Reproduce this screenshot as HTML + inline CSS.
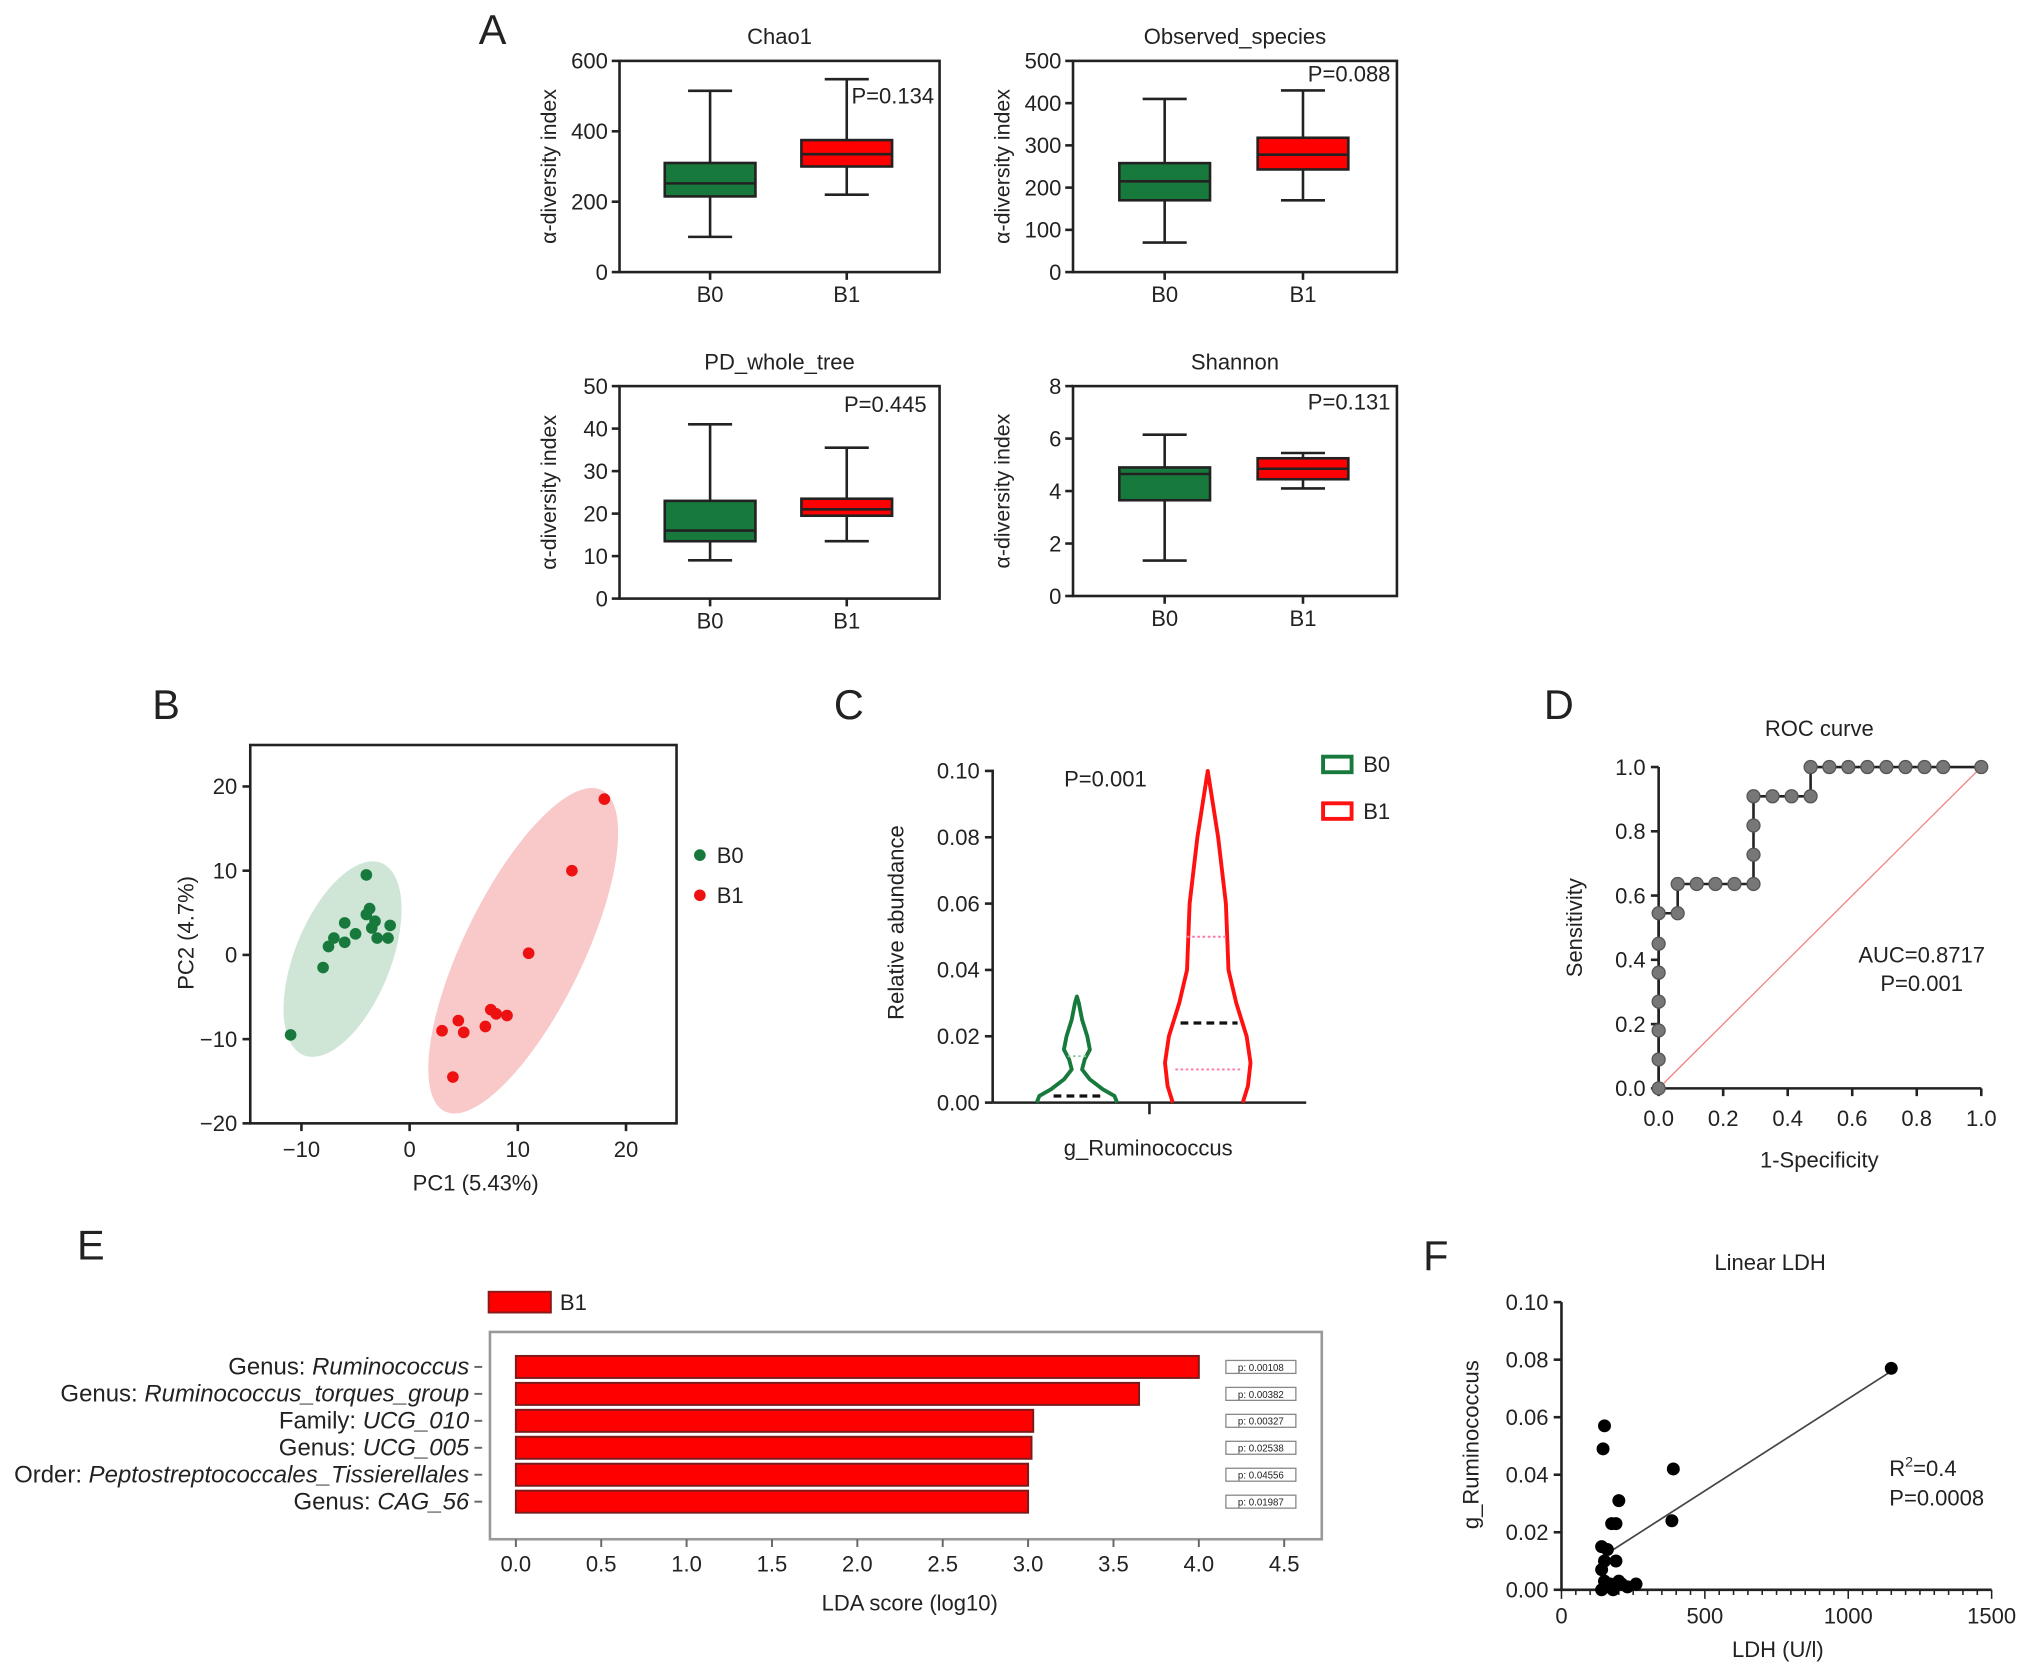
<!DOCTYPE html>
<html><head><meta charset="utf-8"><style>
html,body{margin:0;padding:0;background:#fff}
svg{display:block}
text{font-family:"Liberation Sans",sans-serif;fill:#222}
</style></head><body>
<svg id="s" width="2032" height="1674" viewBox="0 0 1568 1292" xmlns="http://www.w3.org/2000/svg">
<g id="g"></g>
</svg>
<script>
// ---- Panel A data ----
const alphaTitles=["Chao1","Observed_species","PD_whole_tree","Shannon"];
const alphaP=["P=0.134","P=0.088","P=0.445","P=0.131"];
const alphaMax=[600,500,50,8];
const alphaTicks=[[0,200,400,600],[0,100,200,300,400,500],[0,10,20,30,40,50],[0,2,4,6,8]];
// [min,q1,median,q3,max]
const boxB0=[[100,215,252,310,515],[70,170,215,258,410],[9,13.5,16,23,41],[1.35,3.65,4.65,4.9,6.15]];
const boxB1=[[220,300,335,375,548],[170,243,278,318,430],[13.5,19.5,21,23.5,35.5],[4.1,4.45,4.85,5.25,5.45]];
// ---- Panel B data ----
const pcaB0x=[-11,-8,-7.5,-7,-6,-6,-5,-4,-4,-3.7,-3.5,-3.2,-3,-2,-1.8];
const pcaB0y=[-9.5,-1.5,1,2,1.5,3.8,2.5,9.5,4.8,5.5,3.2,4,2,2,3.5];
const pcaB1x=[3,4,4.5,5,7,7.5,8,9,11,15,18];
const pcaB1y=[-9,-14.5,-7.8,-9.2,-8.5,-6.5,-7,-7.2,0.2,10,18.5];
const pcaXTicks=[-10,0,10,20];
const pcaYTicks=[-20,-10,0,10,20];
// ---- Panel C data ----
const violinB0y=[0,0.002,0.004,0.007,0.01,0.013,0.016,0.02,0.025,0.03,0.032];
const violinB0w=[0.031,0.029,0.02,0.01,0.004,0.006,0.01,0.008,0.004,0.0015,0];
const violinB1y=[0,0.005,0.012,0.02,0.03,0.04,0.05,0.06,0.07,0.08,0.09,0.1];
const violinB1w=[0.027,0.031,0.033,0.03,0.022,0.016,0.015,0.014,0.011,0.008,0.004,0];
const violinStats=[[0.002,0.014],[0.024,0.01,0.05]];
const violinYTicks=[0,0.02,0.04,0.06,0.08,0.10];
// ---- Panel D data ----
const rocFpr=[0,0,0,0,0,0,0,0.059,0.059,0.118,0.176,0.235,0.294,0.294,0.294,0.294,0.353,0.412,0.471,0.471,0.529,0.588,0.647,0.706,0.765,0.824,0.882,1];
const rocTpr=[0,0.09,0.18,0.27,0.36,0.45,0.545,0.545,0.636,0.636,0.636,0.636,0.636,0.727,0.818,0.909,0.909,0.909,0.909,1,1,1,1,1,1,1,1,1];
const rocTicks=[0,0.2,0.4,0.6,0.8,1.0];
// ---- Panel E data ----
const ldaLabels=[["Genus: ","Ruminococcus"],["Genus: ","Ruminococcus_torques_group"],["Family: ","UCG_010"],["Genus: ","UCG_005"],["Order: ","Peptostreptococcales_Tissierellales"],["Genus: ","CAG_56"]];
const ldaScores=[4.0,3.65,3.03,3.02,3.0,3.0];
const ldaP=["p: 0.00108","p: 0.00382","p: 0.00327","p: 0.02538","p: 0.04556","p: 0.01987"];
const ldaTicks=[0,0.5,1,1.5,2,2.5,3,3.5,4,4.5];
// ---- Panel F data ----
const ldhX=[1150,150,145,390,200,385,175,190,140,160,150,190,140,150,170,200,210,260,140,180,230,165];
const ldhY=[0.077,0.057,0.049,0.042,0.031,0.024,0.023,0.023,0.015,0.014,0.01,0.01,0.007,0.003,0.002,0.003,0.002,0.002,0,0,0.001,0.001];
const ldhFit=[[150,0.012],[1150,0.076]];
const ldhXTicks=[0,500,1000,1500];
const ldhYTicks=[0,0.02,0.04,0.06,0.08,0.10];

const G=document.getElementById('g');
const NS="http://www.w3.org/2000/svg";
function mk(tag,at,parent){const e=document.createElementNS(NS,tag);for(const k in at)e.setAttribute(k,at[k]);(parent||G).appendChild(e);return e;}
function tx(x,y,s,size,anchor,extra){const e=mk('text',Object.assign({x:x,y:y,'font-size':size,'text-anchor':anchor||'middle'},extra||{}));e.textContent=s;return e;}
function line(x1,y1,x2,y2,st,w,extra){return mk('line',Object.assign({x1,y1,x2,y2,stroke:st||'#222','stroke-width':w||2},extra||{}));}
const lin=(d0,d1,r0,r1)=>v=>r0+(v-d0)/(d1-d0)*(r1-r0);

// Panel letters
[["A",380,34],["B",128,555],["C",655,555],["D",1203,555],["E",70,972],["F",1108,980]].forEach(l=>{const t=tx(l[1],l[2],l[0],32,'middle');});

// Panel A
const aBoxes=[[478,725,47,210],[828,1078,47,210],[478,725,298,462],[828,1078,298,460]];
const aPpos=[[657,80,'start'],[1073,63,'end'],[715,318,'end'],[1073,316,'end']];
for(let i=0;i<4;i++){
  const [x0,x1,y0,y1]=aBoxes[i];
  const y=lin(0,alphaMax[i],y1,y0);
  const xs=[x0+(x1-x0)*0.283,x0+(x1-x0)*0.71];
  const fr=mk('rect',{x:x0,y:y0,width:x1-x0,height:y1-y0,fill:'none',stroke:'#222','stroke-width':2});
  
  const t=tx((x0+x1)/2,y0-13,alphaTitles[i],17);
  alphaTicks[i].forEach(v=>{line(x0-6,y(v),x0,y(v));tx(x0-9,y(v)+6,String(v),17,'end');});
  const yt=tx(0,0,'α-diversity index',16.5,'middle',{transform:`translate(${x0-49},${(y0+y1)/2}) rotate(-90)`});
  
  ['B0','B1'].forEach((n,j)=>{line(xs[j],y1,xs[j],y1+6);tx(xs[j],y1+23,n,17);});
  [[boxB0[i],'#177a3c',0],[boxB1[i],'#ff0000',1]].forEach(([b,c,j])=>{
    const cx=xs[j],hw=35,cw=17;
    line(cx,y(b[0]),cx,y(b[4]));
    line(cx-cw,y(b[0]),cx+cw,y(b[0]));line(cx-cw,y(b[4]),cx+cw,y(b[4]));
    const r=mk('rect',{x:cx-hw,y:y(b[3]),width:2*hw,height:y(b[1])-y(b[3]),fill:c,stroke:'#222','stroke-width':2});
    
    line(cx-hw,y(b[2]),cx+hw,y(b[2]));
  });
  tx(aPpos[i][0],aPpos[i][1],alphaP[i],17,aPpos[i][2]);
}

// Panel B
{
const x=lin(0,10,316,399.5),y=lin(0,10,737,672);
mk('ellipse',{cx:x(-6.2),cy:y(-0.5),rx:37,ry:80,fill:'#cfe5d6',transform:`rotate(22 ${x(-6.2)} ${y(-0.5)})`});
mk('ellipse',{cx:x(10.5),cy:y(0.5),rx:46,ry:138,fill:'#f9c9c9',transform:`rotate(26 ${x(10.5)} ${y(0.5)})`});
const fr=mk('rect',{x:193,y:575,width:329,height:292,fill:'none',stroke:'#222','stroke-width':2});

pcaXTicks.forEach(v=>{line(x(v),867,x(v),873);tx(x(v),893,v<0?'−'+(-v):String(v),17);});
pcaYTicks.forEach(v=>{line(187,y(v),193,y(v));tx(183,y(v)+6,v<0?'−'+(-v):String(v),17,'end');});
pcaB0x.forEach((v,i)=>{const c=mk('circle',{cx:x(v),cy:y(pcaB0y[i]),r:4.5,fill:'#177a3c'});});
pcaB1x.forEach((v,i)=>{const c=mk('circle',{cx:x(v),cy:y(pcaB1y[i]),r:4.5,fill:'#ee1111'});});
tx(367,919,'PC1 (5.43%)',17);
tx(0,0,'PC2 (4.7%)',17,'middle',{transform:'translate(149,720) rotate(-90)'});
mk('circle',{cx:540,cy:660,r:4.5,fill:'#177a3c'});tx(553,666,'B0',17,'start');
mk('circle',{cx:540,cy:691,r:4.5,fill:'#ee1111'});tx(553,697,'B1',17,'start');
}

// Panel C
{
const y=lin(0,0.1,851,595);const wscale=1000;
line(766,594,766,851);line(766,851,1008,851);line(887,851,887,860);
violinYTicks.forEach(v=>{line(760,y(v),766,y(v));tx(756,y(v)+6,v.toFixed(2),17,'end');});
function violin(ys,ws,cx,col,name){
  let d='M'+(cx+ws[0]*wscale)+','+y(ys[0]);
  for(let i=1;i<ys.length;i++)d+=' L'+(cx+ws[i]*wscale)+','+y(ys[i]);
  for(let i=ys.length-1;i>=0;i--)d+=' L'+(cx-ws[i]*wscale)+','+y(ys[i]);
  const p=mk('path',{d:d,fill:'none',stroke:col,'stroke-width':3,'stroke-linejoin':'round'});
  
}
violin(violinB0y,violinB0w,831,'#177a3c','violin-b0');
violin(violinB1y,violinB1w,932,'#ff1111','violin-b1');
line(813,y(violinStats[0][0]),849,y(violinStats[0][0]),'#111',2.5,{'stroke-dasharray':'6 4'});
line(824,y(violinStats[0][1]),838,y(violinStats[0][1]),'#8fc9a0',1.5,{'stroke-dasharray':'2 2'});
line(911,y(violinStats[1][0]),955,y(violinStats[1][0]),'#111',2.5,{'stroke-dasharray':'6 4'});
line(907,y(violinStats[1][1]),957,y(violinStats[1][1]),'#ff77aa',1.5,{'stroke-dasharray':'2 2'});
line(916,y(violinStats[1][2]),948,y(violinStats[1][2]),'#ff77aa',1.5,{'stroke-dasharray':'2 2'});
tx(853,607,'P=0.001',17);
tx(886,892,'g_Ruminococcus',17);
tx(0,0,'Relative abundance',17,'middle',{transform:'translate(697,712) rotate(-90)'});
mk('rect',{x:1021,y:584,width:22,height:12,fill:'none',stroke:'#177a3c','stroke-width':3});tx(1052,596,'B0',17,'start');
mk('rect',{x:1021,y:620,width:22,height:12,fill:'none',stroke:'#ff1111','stroke-width':3});tx(1052,632,'B1',17,'start');
}

// Panel D
{
const x=lin(0,1,1280,1529),y=lin(0,1,840,592);
line(1280,592,1280,841);line(1279,840,1529,840);
rocTicks.forEach(v=>{line(1274,y(v),1280,y(v));tx(1270,y(v)+6,v.toFixed(1),17,'end');line(x(v),840,x(v),846);tx(x(v),869,v.toFixed(1),17);});
line(x(0),y(0),x(1),y(1),'#f08080',1);
let d='M'+x(rocFpr[0])+','+y(rocTpr[0]);
for(let i=1;i<rocFpr.length;i++)d+=' L'+x(rocFpr[i])+','+y(rocTpr[i]);
const p=mk('path',{d:d,fill:'none',stroke:'#222','stroke-width':2});
rocFpr.forEach((v,i)=>{const c=mk('circle',{cx:x(v),cy:y(rocTpr[i]),r:5,fill:'#777',stroke:'#555','stroke-width':1});});
tx(1404,568,'ROC curve',17);
tx(1404,901,'1-Specificity',17);
tx(0,0,'Sensitivity',17,'middle',{transform:'translate(1221,716) rotate(-90)'});
tx(1483,743,'AUC=0.8717',17);tx(1483,765,'P=0.001',17);
}

// Panel E
{
const x=lin(0,4.5,398,991);
mk('rect',{x:377,y:997,width:48,height:16,fill:'#ff0000',stroke:'#8a1a1a','stroke-width':1.5});tx(432,1011,'B1',17,'start');
const fr=mk('rect',{x:378,y:1028,width:642,height:160,fill:'none',stroke:'#999','stroke-width':2});

ldaTicks.forEach(v=>{line(x(v),1188,x(v),1194,'#666',1.5);tx(x(v),1213,v.toFixed(1),17);});
tx(702,1243,'LDA score (log10)',17);
ldaScores.forEach((v,i)=>{
  const cy=1055+i*20.8;
  const r=mk('rect',{x:x(0),y:cy-8.5,width:x(v)-x(0),height:17,fill:'#ff0000',stroke:'#7a1a1a','stroke-width':1.5});
  
  line(366,cy,372,cy,'#666',1.5);
  const t=mk('text',{x:362,y:cy+6,'font-size':18.5,'text-anchor':'end'});
  const a=document.createElementNS(NS,'tspan');a.textContent=ldaLabels[i][0];t.appendChild(a);
  const b=document.createElementNS(NS,'tspan');b.setAttribute('font-style','italic');b.textContent=ldaLabels[i][1];t.appendChild(b);
  mk('rect',{x:946,y:cy-5,width:54,height:10,fill:'#fff',stroke:'#888','stroke-width':1});
  tx(973,cy+3,ldaP[i],7.5);
});
}

// Panel F
{
const x=lin(0,1500,1205,1537),y=lin(0,0.1,1227,1005);
line(1205,1005,1205,1228);line(1204,1227,1537,1227);
for(let v=0;v<=1500;v+=50)line(x(v),1227,x(v),v%500?1231:1234,'#222',1.2);
ldhXTicks.forEach(v=>tx(x(v),1253,String(v),17));
ldhYTicks.forEach(v=>{line(1199,y(v),1205,y(v));tx(1195,y(v)+6,v.toFixed(2),17,'end');});
line(x(ldhFit[0][0]),y(ldhFit[0][1]),x(ldhFit[1][0]),y(ldhFit[1][1]),'#444',1.3);
ldhX.forEach((v,i)=>{const c=mk('circle',{cx:x(v),cy:y(ldhY[i]),r:5,fill:'#000'});});
tx(1366,980,'Linear LDH',17);
tx(1372,1279,'LDH (U/l)',17);
tx(0,0,'g_Ruminococcus',17,'middle',{transform:'translate(1141,1115) rotate(-90)'});
const r=mk('text',{x:1458,y:1139,'font-size':17,'text-anchor':'start'});r.innerHTML='R<tspan dy="-7" font-size="11">2</tspan><tspan dy="7">=0.4</tspan>';
tx(1458,1162,'P=0.0008',17,'start');
}
</script>
</body></html>
